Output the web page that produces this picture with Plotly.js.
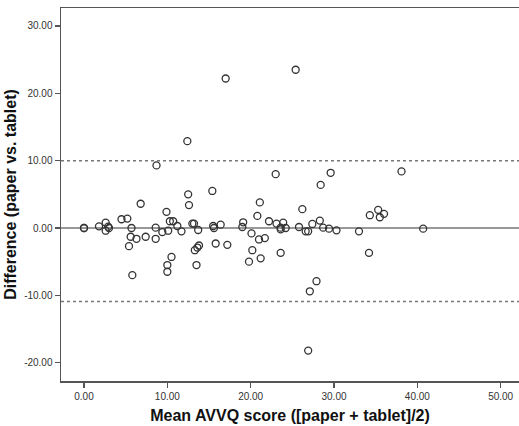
<!DOCTYPE html>
<html>
<head>
<meta charset="utf-8">
<script src="https://cdn.plot.ly/plotly-3.0.1.min.js"></script>
<style>html,body{margin:0;padding:0;background:#fff;}#chart{width:519px;height:426px;}</style>
</head>
<body>
<div id="chart"></div>
<script>
// Mean AVVQ score ([paper + tablet]/2)
const meanScore = [0, 0, 1.8, 2.6, 2.6, 2.9, 3.0, 4.5, 5.2, 5.7, 5.6, 6.3, 5.4, 5.8, 6.8, 7.4, 8.6, 8.6, 8.7, 9.4,
  9.9, 10.1, 10.3, 10.7, 11.2, 11.7, 10.5, 10.0, 10.0, 12.4, 12.5, 12.6, 13.0, 13.2, 13.7, 13.5, 13.8, 13.6, 13.3,
  15.4, 15.5, 15.6, 16.4, 15.8, 17.2, 17.0, 19.1, 19.0, 19.8, 20.1, 20.2, 20.8, 21.1, 21.0, 21.7, 21.2, 22.2,
  23.0, 23.1, 23.6, 23.9, 24.2, 23.6, 23.6, 25.4, 25.8, 26.2, 26.6, 26.9, 27.4, 28.3, 28.7, 28.4, 27.1, 27.9,
  26.9, 29.4, 29.6, 30.3, 33.0, 34.2, 34.3, 35.3, 35.5, 36.0, 38.1, 40.7];
// Difference (paper vs. tablet)
const difference = [0, 0, 0.25, 0.8, -0.4, 0.2, 0.0, 1.3, 1.4, 0.0, -1.3, -1.6, -2.7, -7.0, 3.6, -1.3, 0.05, -1.6, 9.3, -0.6,
  2.4, -0.4, 1.0, 1.0, 0.3, -0.5, -4.3, -5.5, -6.5, 12.9, 5.0, 3.4, 0.65, 0.65, -0.3, -5.5, -2.6, -2.9, -3.3,
  5.5, 0.3, 0.0, 0.5, -2.3, -2.5, 22.2, 0.85, 0.15, -5.0, -0.8, -3.3, 1.8, 3.8, -1.7, -1.5, -4.5, 1.0,
  8.0, 0.65, 0.05, 0.8, 0.0, -0.2, -3.7, 23.5, 0.15, 2.8, -0.5, -0.5, 0.6, 1.1, 0.05, 6.4, -9.4, -7.9,
  -18.2, -0.1, 8.2, -0.35, -0.5, -3.7, 1.9, 2.7, 1.6, 2.1, 8.4, -0.1];

const upperLimit = 10.0;
const lowerLimit = -10.9;
const meanLine = 0.0;
const xTicks = [0, 10, 20, 30, 40, 50];
const yTicks = [-20, -10, 0, 10, 20, 30];
const xRange = [-2.76, 52.2];
const yRange = [-22.72, 32.67];

const traces = [{
  type: 'scatter', mode: 'markers', x: meanScore, y: difference,
  marker: {symbol: 'circle-open', size: 7, color: '#333', line: {width: 1.3, color: '#333'}},
  hoverinfo: 'x+y', showlegend: false
}];

const shapes = [
  {type: 'line', xref: 'paper', x0: 0, x1: 1, yref: 'y', y0: upperLimit, y1: upperLimit,
   line: {color: '#777', width: 1.5, dash: 'dot'}},
  {type: 'line', xref: 'paper', x0: 0, x1: 1, yref: 'y', y0: lowerLimit, y1: lowerLimit,
   line: {color: '#777', width: 1.5, dash: 'dot'}},
  {type: 'line', xref: 'paper', x0: 0, x1: 1, yref: 'y', y0: meanLine, y1: meanLine,
   line: {color: '#333', width: 1}}
];

const titleFont = {size: 16, color: '#111', family: 'Liberation Sans, Arial, sans-serif', weight: 'bold'};

const layout = {
  width: 519, height: 426,
  margin: {l: 61, r: 0, t: 8, b: 45},
  paper_bgcolor: '#fff', plot_bgcolor: '#fff',
  font: {family: 'Liberation Sans, Arial, sans-serif', color: '#222'},
  showlegend: false,
  shapes: shapes,
  xaxis: {
    range: xRange, tickvals: xTicks, ticktext: xTicks.map(v => v.toFixed(2)),
    showgrid: false, zeroline: false, showline: true, mirror: true,
    linecolor: '#555', linewidth: 1.5, ticks: 'outside', ticklen: 5, tickwidth: 1.5, tickcolor: '#555',
    tickfont: {size: 10, color: '#333'},
    title: {text: 'Mean AVVQ score ([paper + tablet]/2)', font: titleFont, standoff: 9}
  },
  yaxis: {
    range: yRange, tickvals: yTicks, ticktext: yTicks.map(v => v.toFixed(2)),
    showgrid: false, zeroline: false, showline: true,
    linecolor: '#555', linewidth: 1.5, ticks: 'outside', ticklen: 5, tickwidth: 1.5, tickcolor: '#555',
    tickfont: {size: 10, color: '#333'},
    title: {text: 'Difference (paper vs. tablet)', font: titleFont, standoff: 3}
  }
};

Plotly.newPlot('chart', traces, layout, {displayModeBar: false, staticPlot: true});
</script>
</body>
</html>
